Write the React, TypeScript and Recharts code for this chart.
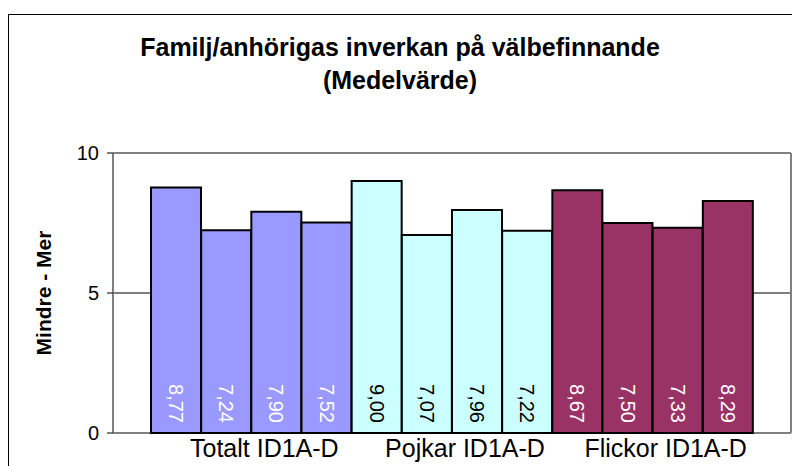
import React from "react";
import { BarChart, Bar, XAxis, YAxis, CartesianGrid, LabelList, Cell } from "recharts";

const groups = ["Totalt ID1A-D", "Pojkar ID1A-D", "Flickor ID1A-D"];
const subItems = ["ID1A", "ID1B", "ID1C", "ID1D"];
const totaltValues = [8.77, 7.24, 7.9, 7.52];
const pojkarValues = [9.0, 7.07, 7.96, 7.22];
const flickorValues = [8.67, 7.5, 7.33, 8.29];
const groupColors = ["#9999FF", "#CCFFFF", "#993366"];
const labelColors = ["#FFFFFF", "#000000", "#FFFFFF"];
const yTicks = [0, 5, 10];
const gridValues = [5];

const FONT = '"Liberation Sans", Arial, sans-serif';
const FRAME = "#808080";

const data = [totaltValues, pojkarValues, flickorValues].flatMap((vals, gi) =>
  vals.map((v, i) => ({
    key: `${groups[gi]} ${subItems[i]}`,
    group: groups[gi],
    value: v,
    fill: groupColors[gi],
    labelFill: labelColors[gi],
  }))
);

const fmt = (v: number) => v.toFixed(2).replace(".", ",");

function ValueLabel(props: any) {
  const { x, y, width, height, value, index } = props;
  const cx = x + width / 2;
  const by = y + height - 10;
  return (
    <text
      x={cx}
      y={by}
      transform={`rotate(90 ${cx} ${by})`}
      textAnchor="end"
      dominantBaseline="central"
      fontSize={20}
      fontFamily={FONT}
      fill={data[index]?.labelFill ?? "#fff"}
    >
      {fmt(Number(value))}
    </text>
  );
}

function GroupTick(props: any) {
  const { x, y, payload } = props;
  return (
    <text x={x + 13} y={y + 16} textAnchor="middle" fontSize={25} fontFamily={FONT} fill="#000">
      {payload.value}
    </text>
  );
}

function YLabel(props: any) {
  const vb = props.viewBox || { x: 5, y: 145, width: 100, height: 280 };
  const lx = vb.x + 30;
  const ly = vb.y + vb.height / 2;
  return (
    <text
      x={lx}
      y={ly}
      transform={`rotate(-90 ${lx} ${ly})`}
      textAnchor="middle"
      dominantBaseline="central"
      fontSize={21}
      fontWeight="bold"
      fontFamily={FONT}
      fill="#000"
    >
      Mindre - Mer
    </text>
  );
}

// plot-area frame, taken from the chart's own offset
const frameH = ({ offset }: any) => [offset.top, offset.top + offset.height];
const frameV = ({ offset }: any) => [offset.left, offset.left + offset.width];

export default function App() {
  return (
    <div style={{ position: "relative", width: 792, height: 458, overflow: "hidden", fontFamily: FONT }}>
      <style>{"html,body{overflow:hidden}"}</style>
      <div
        style={{
          position: "absolute",
          left: 0,
          top: 6,
          width: 820,
          height: 600,
          borderTop: "1px solid #000",
          borderLeft: "1px solid #000",
        }}
      />
      <div
        style={{
          position: "absolute",
          left: 0,
          top: 23,
          width: 784,
          textAlign: "center",
          fontSize: 25,
          fontWeight: "bold",
          lineHeight: "33px",
          color: "#000",
        }}
      >
        <div>Familj/anhörigas inverkan på välbefinnande</div>
        <div>(Medelvärde)</div>
      </div>
      <div style={{ position: "absolute", left: 0, top: 0 }}>
        <BarChart
          width={792}
          height={458}
          data={data}
          margin={{ top: 145, right: 9, bottom: 3, left: 5 }}
          barCategoryGap={0}
          barGap={0}
        >
          <CartesianGrid vertical={false} stroke="#000" strokeWidth={1} horizontalValues={gridValues} />
          <CartesianGrid
            stroke={FRAME}
            strokeWidth={2}
            horizontalCoordinatesGenerator={frameH}
            verticalCoordinatesGenerator={frameV}
          />
          <XAxis dataKey="key" hide height={0} padding={{ left: 38, right: 38 }} />
          <XAxis
            xAxisId="grp"
            dataKey="group"
            allowDuplicatedCategory={false}
            padding={{ left: 38, right: 38 }}
            axisLine={false}
            tickLine={false}
            tick={<GroupTick />}
            interval={0}
            height={30}
          />
          <YAxis
            domain={[0, 10]}
            ticks={yTicks}
            width={100}
            axisLine={false}
            tickLine={{ stroke: "#000" }}
            tickSize={6}
            tickMargin={8}
            tick={{ fontSize: 20, fill: "#000", fontFamily: FONT }}
            label={{ content: <YLabel /> }}
          />
          <Bar dataKey="value" stroke="#000" strokeWidth={2} isAnimationActive={false}>
            {data.map((d) => (
              <Cell key={d.key} fill={d.fill} />
            ))}
            <LabelList dataKey="value" content={<ValueLabel />} />
          </Bar>
        </BarChart>
      </div>
    </div>
  );
}
